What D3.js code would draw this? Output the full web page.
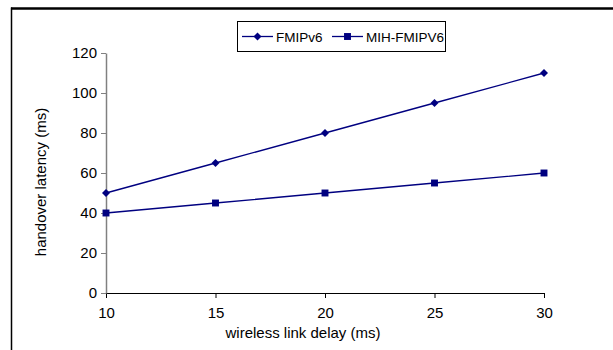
<!DOCTYPE html>
<html>
<head>
<meta charset="utf-8">
<script src="https://cdn.jsdelivr.net/npm/d3@7"></script>
<style>
  body { margin: 0; background: #fff; }
  svg { display: block; font-family: "Liberation Sans", Arial, sans-serif; }
</style>
</head>
<body>
<div id="chart"></div>
<script>
// chart data
var delays = [10, 15, 20, 25, 30];
var fmipv6 = [50, 65, 80, 95, 110];
var mihFmipv6 = [40, 45, 50, 55, 60];
var yTicks = [0, 20, 40, 60, 80, 100, 120];
var seriesNames = ['FMIPv6', 'MIH-FMIPV6'];

const WIDTH = 613, HEIGHT = 350;
const PLOT = { LEFT: 106, RIGHT: 544, TOP: 53, BOTTOM: 293 };
const NAVY = '#000080';

var svg = d3.select('#chart').append('svg')
  .attr('width', WIDTH)
  .attr('height', HEIGHT);

// outer frame (top and left only are visible)
svg.append('line').attr('x1', 11).attr('x2', WIDTH).attr('y1', 8.5).attr('y2', 8.5)
  .attr('stroke', '#000').attr('stroke-width', 2.5);
svg.append('line').attr('x1', 11.5).attr('x2', 11.5).attr('y1', 7.5).attr('y2', HEIGHT)
  .attr('stroke', '#000').attr('stroke-width', 1.5);

var x = d3.scaleLinear().domain([10, 30]).range([PLOT.LEFT, PLOT.RIGHT]);
var y = d3.scaleLinear().domain([0, 120]).range([PLOT.BOTTOM, PLOT.TOP]);

// y axis (grey)
var yAxis = svg.append('g')
  .attr('transform', 'translate(' + PLOT.LEFT + ',0)')
  .call(d3.axisLeft(y).tickValues(yTicks).tickSize(5).tickPadding(4).tickSizeOuter(0));
yAxis.select('.domain').attr('stroke', '#808080').attr('stroke-width', 1.5);
yAxis.selectAll('.tick line').attr('stroke', '#808080');
yAxis.selectAll('text').attr('fill', '#000').style('font-size', '15px');

// x axis (black)
var xAxis = svg.append('g')
  .attr('transform', 'translate(0,' + PLOT.BOTTOM + ')')
  .call(d3.axisBottom(x).tickValues(delays).tickSize(5).tickPadding(9).tickSizeOuter(0));
xAxis.select('.domain').attr('stroke', '#000');
xAxis.selectAll('.tick line').attr('stroke', '#000');
xAxis.selectAll('text').attr('fill', '#000').style('font-size', '15px');
yAxis.raise();

// axis titles
svg.append('text')
  .attr('x', 303).attr('y', 338)
  .attr('text-anchor', 'middle')
  .style('font-size', '15px')
  .text('wireless link delay (ms)');
svg.append('text')
  .attr('transform', 'translate(46,182) rotate(-90)')
  .attr('text-anchor', 'middle')
  .style('font-size', '15px')
  .text('handover latency (ms)');

var line = d3.line()
  .x(function (d, i) { return x(delays[i]); })
  .y(function (d) { return y(d); });

// even rhombus, like the excel marker
var rhombus = {
  draw: function (context, size) {
    var r = Math.sqrt(size / 2);
    context.moveTo(0, -r);
    context.lineTo(r, 0);
    context.lineTo(0, r);
    context.lineTo(-r, 0);
    context.closePath();
  }
};
var diamond = d3.symbol().type(rhombus).size(32);
var square = d3.symbol().type(d3.symbolSquare).size(48);

function drawSeries (data, sym) {
  svg.append('path')
    .datum(data)
    .attr('fill', 'none')
    .attr('stroke', NAVY)
    .attr('stroke-width', 1.3)
    .attr('d', line);
  svg.selectAll(null).data(data).enter()
    .append('path')
    .attr('d', sym)
    .attr('fill', NAVY)
    .attr('transform', function (d, i) {
      return 'translate(' + x(delays[i]) + ',' + y(d) + ')';
    });
}

drawSeries(mihFmipv6, square);
drawSeries(fmipv6, diamond);

// legend
var legend = svg.append('g');
legend.append('rect')
  .attr('x', 237.5).attr('y', 21.5).attr('width', 208).attr('height', 30)
  .attr('fill', '#fff').attr('stroke', '#000').attr('stroke-width', 1);
var legendItems = [
  { name: seriesNames[0], sym: diamond, x0: 242, tx: 276 },
  { name: seriesNames[1], sym: square, x0: 332, tx: 366 }
];
legendItems.forEach(function (item) {
  legend.append('line')
    .attr('x1', item.x0).attr('x2', item.x0 + 31)
    .attr('y1', 36.5).attr('y2', 36.5)
    .attr('stroke', NAVY).attr('stroke-width', 1.3);
  legend.append('path')
    .attr('d', item.sym)
    .attr('fill', NAVY)
    .attr('transform', 'translate(' + (item.x0 + 15.5) + ',36.5)');
  legend.append('text')
    .attr('x', item.tx).attr('y', 41.5)
    .style('font-size', '13.5px')
    .text(item.name);
});
</script>
</body>
</html>
